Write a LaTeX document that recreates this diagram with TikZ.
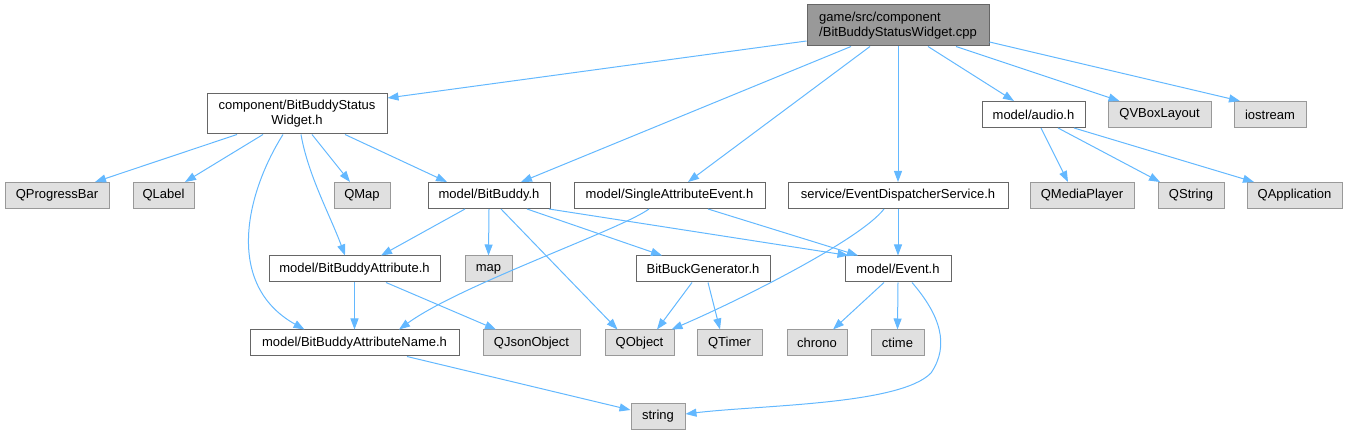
\documentclass[tikz,border=0pt]{standalone}
\usepackage{fontspec}
\setmainfont{Liberation Sans}
\usetikzlibrary{arrows.meta}
\definecolor{edgeblue}{HTML}{63B8FF}
\definecolor{extfill}{HTML}{E0E0E0}
\definecolor{extdraw}{HTML}{999999}
\definecolor{rootfill}{HTML}{999999}
\definecolor{intdraw}{HTML}{666666}
\tikzset{
  box/.style={draw=intdraw, fill=white, line width=1pt, minimum height=26pt, inner sep=0pt, font=\fontsize{13}{15}\selectfont, text=black},
  ext/.style={box, draw=extdraw, fill=extfill},
  rootbox/.style={box, fill=rootfill, align=left, minimum height=41pt},
  edge/.style={draw=edgeblue, line width=1pt, -{Triangle[length=11pt,width=8pt]}}
}
\begin{document}
\begin{tikzpicture}[x=1pt,y=1pt]
\useasboundingbox (0,0) rectangle (1349,-435);
% row 0
\node[rootbox, minimum width=182pt] (root) at (898,-25.5) {game/src/component\\/BitBuddyStatusWidget.cpp};
% row 1
\node[box, align=center, minimum width=180pt, minimum height=40pt] (comp) at (297,-114) {component/BitBuddyStatus\\Widget.h};
\node[box, minimum width=103pt] (audio) at (1033.5,-114.5) {model/audio.h};
\node[ext, minimum width=103pt] (qvbox) at (1159.5,-114.5) {QVBoxLayout};
\node[ext, minimum width=72pt] (iostream) at (1270,-114.5) {iostream};
% row 2
\node[ext, minimum width=104pt] (qprog) at (57,-195.5) {QProgressBar};
\node[ext, minimum width=61pt] (qlabel) at (163.5,-195.5) {QLabel};
\node[ext, minimum width=56pt] (qmap) at (362,-195.5) {QMap};
\node[box, minimum width=122pt] (bitbuddy) at (489,-195.5) {model/BitBuddy.h};
\node[box, minimum width=191pt] (sae) at (669.5,-195.5) {model/SingleAttributeEvent.h};
\node[box, minimum width=220pt] (eds) at (898,-195.5) {service/EventDispatcherService.h};
\node[ext, minimum width=104pt] (qmedia) at (1082,-195.5) {QMediaPlayer};
\node[ext, minimum width=66pt] (qstring) at (1191,-195.5) {QString};
\node[ext, minimum width=95pt] (qapp) at (1294.5,-195.5) {QApplication};
% row 3
\node[box, minimum width=171pt] (bba) at (354.5,-269) {model/BitBuddyAttribute.h};
\node[ext, minimum width=47pt] (map) at (488.5,-269) {map};
\node[box, minimum width=134pt] (bbg) at (703,-269) {BitBuckGenerator.h};
\node[box, minimum width=106pt] (event) at (898,-269) {model/Event.h};
% row 4
\node[box, minimum width=209pt] (bban) at (354.5,-343) {model/BitBuddyAttributeName.h};
\node[ext, minimum width=97pt] (qjson) at (531.5,-343) {QJsonObject};
\node[ext, minimum width=69pt] (qobject) at (639.5,-343) {QObject};
\node[ext, minimum width=65pt] (qtimer) at (729.5,-343) {QTimer};
\node[ext, minimum width=60pt] (chrono) at (817,-343) {chrono};
\node[ext, minimum width=53pt] (ctime) at (897.5,-343) {ctime};
% row 5
\node[ext, minimum width=54pt] (string) at (658,-416) {string};

% edges from root
\draw[edge] ([yshift=-15.5pt]root.west) -- ([yshift=16pt]comp.east);
\draw[edge] ([xshift=-47pt]root.south) -- ([xshift=32pt]bitbuddy.north);
\draw[edge] ([xshift=-28pt]root.south) -- ([xshift=18.5pt]sae.north);
\draw[edge] (root.south) -- (eds.north);
\draw[edge] ([xshift=30pt]root.south) -- ([xshift=-19.5pt]audio.north);
\draw[edge] ([xshift=58pt]root.south) -- ([xshift=-40pt]qvbox.north);
\draw[edge] ([yshift=-16.5pt]root.east) -- ([xshift=-30pt]iostream.north);
% edges from comp
\draw[edge] ([xshift=-60pt]comp.south) -- ([xshift=38pt]qprog.north);
\draw[edge] ([xshift=-34pt]comp.south) -- ([xshift=21.5pt]qlabel.north);
\draw[edge] ([xshift=15pt]comp.south) -- ([xshift=-12pt]qmap.north);
\draw[edge] ([xshift=48pt]comp.south) -- ([xshift=-42pt]bitbuddy.north);
\draw[edge] ([xshift=-14pt]comp.south) .. controls (245,-195) and (225,-285) .. ([xshift=-50pt]bban.north);
\draw[edge] ([xshift=4pt]comp.south) .. controls (308,-175) and (330,-215) .. ([xshift=-9.5pt]bba.north);
% edges from bitbuddy
\draw[edge] ([xshift=-24pt]bitbuddy.south) -- ([xshift=26.5pt]bba.north);
\draw[edge] (bitbuddy.south) -- (map.north);
\draw[edge] ([xshift=12pt]bitbuddy.south) -- ([xshift=-22pt]qobject.north);
\draw[edge] ([xshift=38pt]bitbuddy.south) -- ([xshift=-41pt]bbg.north);
\draw[edge] ([xshift=60pt]bitbuddy.south) -- ([xshift=4pt]event.north west);
% edges from sae
\draw[edge] ([xshift=-20.5pt]sae.south) .. controls (620,-230) and (460,-285) .. ([xshift=44.5pt]bban.north);
\draw[edge] ([xshift=38.5pt]sae.south) -- ([xshift=-40pt]event.north);
% edges from eds
\draw[edge] (eds.south) -- (event.north);
\draw[edge] ([xshift=-14pt]eds.south) .. controls (860,-240) and (740,-300) .. ([xshift=-3pt]qobject.north east);
% edges from audio
\draw[edge] ([xshift=7.5pt]audio.south) -- ([xshift=-14pt]qmedia.north);
\draw[edge] ([xshift=24.5pt]audio.south) -- ([xshift=-31pt]qstring.north);
\draw[edge] ([xshift=40.5pt]audio.south) -- ([xshift=-40.5pt]qapp.north);
% edges from bba
\draw[edge] (bba.south) -- (bban.north);
\draw[edge] ([xshift=31.5pt]bba.south) -- ([xshift=-35.5pt]qjson.north);
% edges from bbg
\draw[edge] ([xshift=-11pt]bbg.south) -- ([xshift=17.5pt]qobject.north);
\draw[edge] ([xshift=5pt]bbg.south) -- ([xshift=-9.5pt]qtimer.north);
% edges from event
\draw[edge] ([xshift=-14pt]event.south) -- ([xshift=16pt]chrono.north);
\draw[edge] (event.south) -- (ctime.north);
\draw[edge] ([xshift=14pt]event.south) .. controls (940,-315) and (950,-345) .. (931,-373) .. controls (900,-405) and (760,-405) .. ([yshift=2pt]string.east);
% edge from bban
\draw[edge] ([xshift=52.5pt]bban.south) -- ([yshift=6pt]string.west);
\end{tikzpicture}
\end{document}
